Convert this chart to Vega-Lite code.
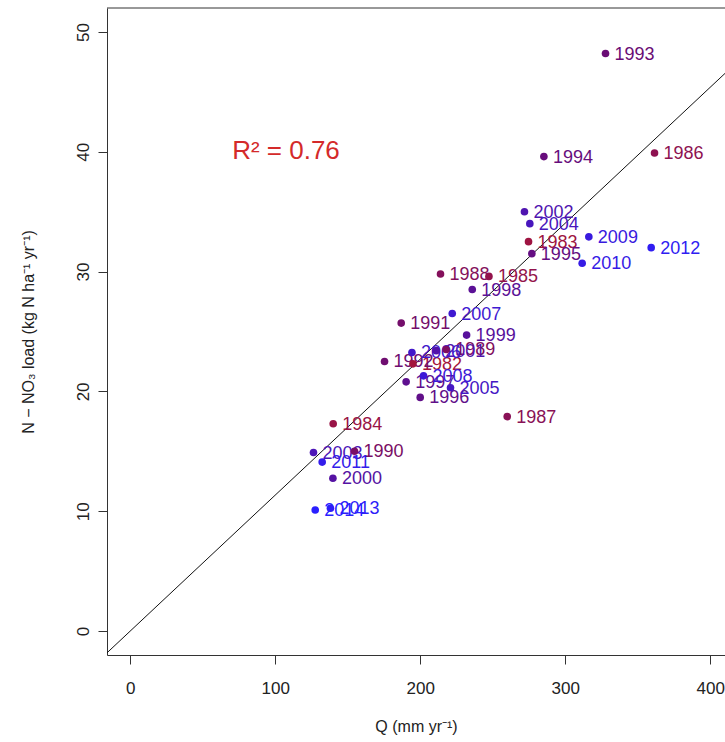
{
  "$schema": "https://vega.github.io/schema/vega-lite/v6.json",
  "width": 618,
  "height": 647,
  "autosize": {"type": "none"},
  "padding": {"left": 107, "top": 8, "right": 0, "bottom": 87},
  "background": "white",
  "config": {
    "view": {"stroke": null},
    "font": "Liberation Sans",
    "axis": {
      "grid": false,
      "domainColor": "#333333",
      "domainWidth": 1,
      "tickColor": "#333333",
      "tickSize": 9,
      "labelColor": "#222222",
      "labelFontSize": 17,
      "labelFont": "Liberation Sans",
      "titleFont": "Liberation Sans",
      "titleFontSize": 16,
      "titleFontWeight": "normal",
      "titleColor": "#222222"
    }
  },
  "datasets": {
    "pts": [
      {"year": 1982, "q": 195.0, "n": 22.3},
      {"year": 1983, "q": 274.7, "n": 32.5},
      {"year": 1984, "q": 140.0, "n": 17.3},
      {"year": 1985, "q": 247.4, "n": 29.6},
      {"year": 1986, "q": 361.6, "n": 39.9},
      {"year": 1987, "q": 260.0, "n": 17.9},
      {"year": 1988, "q": 214.0, "n": 29.8},
      {"year": 1989, "q": 217.9, "n": 23.5},
      {"year": 1990, "q": 154.7, "n": 15.0},
      {"year": 1991, "q": 186.9, "n": 25.7},
      {"year": 1992, "q": 175.4, "n": 22.5},
      {"year": 1993, "q": 327.8, "n": 48.2},
      {"year": 1994, "q": 285.3, "n": 39.6},
      {"year": 1995, "q": 277.0, "n": 31.5},
      {"year": 1996, "q": 200.0, "n": 19.5},
      {"year": 1997, "q": 190.3, "n": 20.8},
      {"year": 1998, "q": 235.9, "n": 28.5},
      {"year": 1999, "q": 232.0, "n": 24.7},
      {"year": 2000, "q": 139.8, "n": 12.75},
      {"year": 2001, "q": 211.0, "n": 23.4},
      {"year": 2002, "q": 271.9, "n": 35.0},
      {"year": 2003, "q": 126.4, "n": 14.9},
      {"year": 2004, "q": 275.6, "n": 34.0},
      {"year": 2005, "q": 220.9, "n": 20.3},
      {"year": 2006, "q": 194.3, "n": 23.25},
      {"year": 2007, "q": 222.1, "n": 26.5},
      {"year": 2008, "q": 202.3, "n": 21.3},
      {"year": 2009, "q": 316.3, "n": 32.9},
      {"year": 2010, "q": 311.7, "n": 30.7},
      {"year": 2011, "q": 132.4, "n": 14.1},
      {"year": 2012, "q": 359.3, "n": 32.0},
      {"year": 2013, "q": 138.1, "n": 10.25},
      {"year": 2014, "q": 127.6, "n": 10.1}
    ]
  },
  "layer": [
    {
      "data": {"values": [{"top": 52}]},
      "mark": {"type": "rule", "color": "#333333", "strokeWidth": 1},
      "encoding": {
        "y": {"field": "top", "type": "quantitative", "scale": {"domain": [-2, 52], "nice": false, "zero": false}}
      }
    },
    {
      "data": {"values": [{"q": -16, "n": -1.82}, {"q": 416, "n": 47.2}]},
      "mark": {"type": "line", "color": "#111111", "strokeWidth": 1, "clip": true},
      "encoding": {
        "x": {"field": "q", "type": "quantitative"},
        "y": {"field": "n", "type": "quantitative"}
      }
    },
    {
      "data": {"name": "pts"},
      "mark": {"type": "text", "align": "left", "baseline": "middle", "dx": 9, "dy": 1, "fontSize": 18, "font": "Liberation Sans"},
      "encoding": {
        "x": {"field": "q", "type": "quantitative"},
        "y": {"field": "n", "type": "quantitative"},
        "text": {"field": "year", "type": "nominal"},
        "color": {"field": "year", "type": "quantitative", "legend": null,
          "scale": {"domain": [1982, 1993, 2014], "range": ["#a3153c", "#6a0c75", "#2a1fff"], "interpolate": "rgb"}}
      }
    },
    {
      "data": {"name": "pts"},
      "mark": {"type": "circle", "size": 58, "opacity": 1},
      "encoding": {
        "x": {"field": "q", "type": "quantitative",
          "scale": {"domain": [-16, 410.2], "nice": false, "zero": false},
          "axis": {"values": [0, 100, 200, 300, 400], "title": "Q (mm yr⁻¹)", "labelPadding": 16, "titlePadding": 22}},
        "y": {"field": "n", "type": "quantitative",
          "scale": {"domain": [-2, 52], "nice": false, "zero": false},
          "axis": {"values": [0, 10, 20, 30, 40, 50], "title": "N − NO₃ load (kg N ha⁻¹ yr⁻¹)", "labelAngle": -90, "labelAlign": "center", "labelBaseline": "bottom", "labelPadding": 6, "titlePadding": 38}},
        "color": {"field": "year", "type": "quantitative", "legend": null,
          "scale": {"domain": [1982, 1993, 2014], "range": ["#a3153c", "#6a0c75", "#2a1fff"], "interpolate": "rgb"}}
      }
    },
    {
      "data": {"values": [{"q": 70.3, "n": 40.1, "label": "R² = 0.76"}]},
      "mark": {"type": "text", "align": "left", "baseline": "middle", "fontSize": 26, "color": "#d42a2a", "font": "Liberation Sans"},
      "encoding": {
        "x": {"field": "q", "type": "quantitative"},
        "y": {"field": "n", "type": "quantitative"},
        "text": {"field": "label", "type": "nominal"}
      }
    }
  ]
}
